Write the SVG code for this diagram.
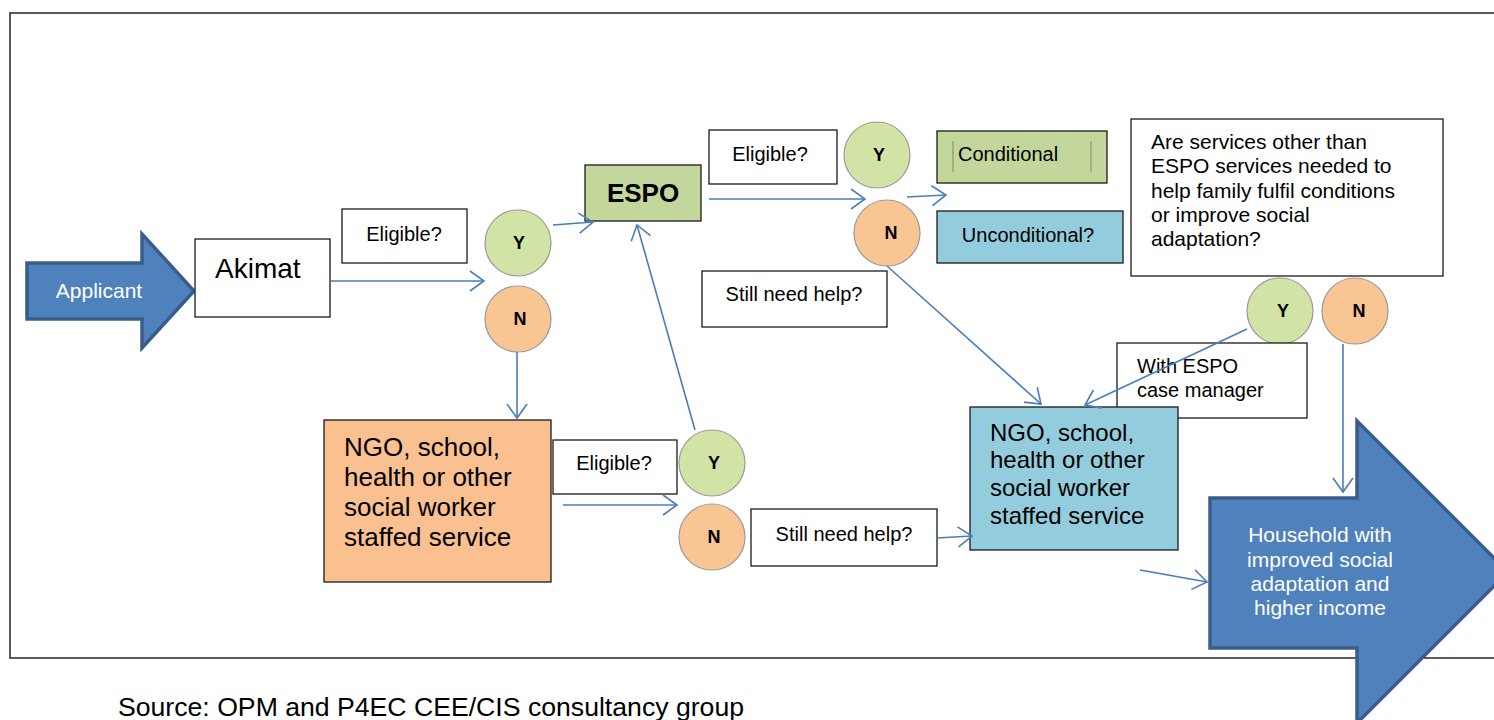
<svg xmlns="http://www.w3.org/2000/svg" width="1494" height="720" viewBox="0 0 1494 720">
  <defs>
    <marker id="chev" markerUnits="userSpaceOnUse" markerWidth="20" markerHeight="24" refX="15" refY="11" orient="auto" overflow="visible">
      <path d="M1,1 L15,11 L1,21" fill="none" stroke="#4a7ebb" stroke-width="1.6"/>
    </marker>
  </defs>
  <style>
    text { font-family: "Liberation Sans", Arial, sans-serif; fill: #000; }
    .box { fill: #fff; stroke: #1a1a1a; stroke-width: 1.3; }
    .green { fill: #c3d69b; stroke: #1a1a1a; stroke-width: 1.3; }
    .blue { fill: #93cddd; stroke: #1a1a1a; stroke-width: 1.3; }
    .orange { fill: #fac090; stroke: #1a1a1a; stroke-width: 1.3; }
    .yes { fill: #d2e3a6; stroke: #9a9a9a; stroke-width: 1.2; }
    .no { fill: #f9c592; stroke: #9a9a9a; stroke-width: 1.2; }
    .yn { font-size: 18px; font-weight: bold; text-anchor: middle; }
    .lbl { font-size: 20px; }
    .q { font-size: 21px; }
    .mid { text-anchor: middle; }
    .big { font-size: 26px; }
    .svc { font-size: 24px; }
    .block { fill: #4f81bd; stroke: #385d8a; stroke-width: 3.5; stroke-linejoin: miter; }
    .wt { fill: #fff; font-size: 21px; text-anchor: middle; }
    .conn path { fill: none; stroke: #4a7ebb; stroke-width: 1.6; marker-end: url(#chev); }
  </style>

  <rect width="1494" height="720" fill="#fff"/>

  <!-- outer frame -->
  <rect x="10" y="13" width="1500" height="645" fill="none" stroke="#333" stroke-width="1.6"/>

  <g id="applicant">
    <polygon class="block" points="27,263 142,263 142,234 194,291 142,348 142,319 27,319"/>
    <text class="wt" x="99" y="298">Applicant</text>
  </g>

  <g id="akimat">
    <rect class="box" x="195" y="239" width="135" height="78"/>
    <text x="215" y="278" font-size="28">Akimat</text>
  </g>

  <g id="eligible-1">
    <rect class="box" x="342" y="209" width="125" height="54"/>
    <text class="lbl mid" x="404" y="241">Eligible?</text>
  </g>

  <g id="yes-1">
    <circle class="yes" cx="518" cy="243" r="33"/>
    <text class="yn" x="519" y="249">Y</text>
  </g>
  <g id="no-1">
    <circle class="no" cx="518" cy="319" r="33"/>
    <text class="yn" x="520" y="325">N</text>
  </g>

  <g id="espo">
    <rect class="green" x="585" y="165" width="116" height="56"/>
    <text x="643" y="202" font-size="26" font-weight="bold" text-anchor="middle">ESPO</text>
  </g>

  <g id="eligible-2">
    <rect class="box" x="709" y="130" width="128" height="54"/>
    <text class="lbl mid" x="770" y="161">Eligible?</text>
  </g>

  <g id="yes-2">
    <circle class="yes" cx="877" cy="155" r="33"/>
    <text class="yn" x="879" y="161">Y</text>
  </g>
  <g id="no-2">
    <circle class="no" cx="887" cy="233" r="33"/>
    <text class="yn" x="891" y="239">N</text>
  </g>

  <g id="conditional">
    <rect class="green" x="937" y="131" width="170" height="52"/>
    <line x1="953" y1="141" x2="953" y2="172" stroke="#7f8f60" stroke-width="1"/>
    <line x1="1091" y1="141" x2="1091" y2="172" stroke="#7f8f60" stroke-width="1"/>
    <text class="lbl" x="958" y="161">Conditional</text>
  </g>

  <g id="unconditional">
    <rect class="blue" x="937" y="211" width="186" height="52"/>
    <text class="lbl mid" x="1028" y="242">Unconditional?</text>
  </g>

  <g id="still-help-1">
    <rect class="box" x="702" y="271" width="185" height="56"/>
    <text class="lbl mid" x="794" y="301">Still need help?</text>
  </g>

  <g id="other-services">
    <rect class="box" x="1131" y="119" width="312" height="157"/>
    <text class="q" x="1151" y="149">Are services other than</text>
    <text class="q" x="1151" y="173">ESPO services needed to</text>
    <text class="q" x="1151" y="198">help family fulfil conditions</text>
    <text class="q" x="1151" y="222">or improve social</text>
    <text class="q" x="1151" y="246">adaptation?</text>
  </g>

  <g id="yes-3">
    <circle class="yes" cx="1280" cy="311" r="33"/>
    <text class="yn" x="1283" y="317">Y</text>
  </g>
  <g id="no-3">
    <circle class="no" cx="1355" cy="311" r="33"/>
    <text class="yn" x="1359" y="317">N</text>
  </g>

  <g id="case-manager">
    <rect class="box" x="1117" y="343" width="190" height="75"/>
    <text class="lbl" x="1137" y="373">With ESPO</text>
    <text class="lbl" x="1137" y="397">case manager</text>
  </g>

  <g id="ngo-social-2">
    <rect class="blue" x="970" y="407" width="208" height="143"/>
    <text class="svc" x="990" y="441">NGO, school,</text>
    <text class="svc" x="990" y="468">health or other</text>
    <text class="svc" x="990" y="496">social worker</text>
    <text class="svc" x="990" y="524">staffed service</text>
  </g>

  <g id="ngo-social-1">
    <rect class="orange" x="324" y="420" width="227" height="162"/>
    <text class="big" x="344" y="456">NGO, school,</text>
    <text class="big" x="344" y="486">health or other</text>
    <text class="big" x="344" y="516">social worker</text>
    <text class="big" x="344" y="546">staffed service</text>
  </g>

  <g id="eligible-3">
    <rect class="box" x="553" y="440" width="124" height="54"/>
    <text class="lbl mid" x="614" y="470">Eligible?</text>
  </g>

  <g id="yes-4">
    <circle class="yes" cx="712" cy="463" r="33"/>
    <text class="yn" x="714" y="469">Y</text>
  </g>
  <g id="no-4">
    <circle class="no" cx="712" cy="537" r="33"/>
    <text class="yn" x="714" y="543">N</text>
  </g>

  <g id="still-help-2">
    <rect class="box" x="751" y="509" width="186" height="57"/>
    <text class="lbl mid" x="844" y="541">Still need help?</text>
  </g>

  <g id="household">
    <polygon class="block" points="1210,498 1357,498 1357,421 1508,572 1357,723 1357,648 1210,648"/>
    <text class="wt" x="1320" y="542">Household with</text>
    <text class="wt" x="1320" y="567">improved social</text>
    <text class="wt" x="1320" y="591">adaptation and</text>
    <text class="wt" x="1320" y="615">higher income</text>
  </g>

  <g id="connectors" class="conn">
    <path d="M331,281 L484,281"/>
    <path d="M553,225 L593,222"/>
    <path d="M709,199 L865,199"/>
    <path d="M907,197 L946,195"/>
    <path d="M887,266 L1041,404"/>
    <path d="M1247,329 L1085,405"/>
    <path d="M1343,344 L1343,492"/>
    <path d="M517,352 L517,418"/>
    <path d="M563,505 L677,505"/>
    <path d="M695,430 L637,225"/>
    <path d="M937,538 L972,536"/>
    <path d="M1140,570 L1207,582"/>
  </g>

  <text x="118" y="716" font-size="25" textLength="626" lengthAdjust="spacingAndGlyphs">Source: OPM and P4EC CEE/CIS consultancy group</text>
</svg>
